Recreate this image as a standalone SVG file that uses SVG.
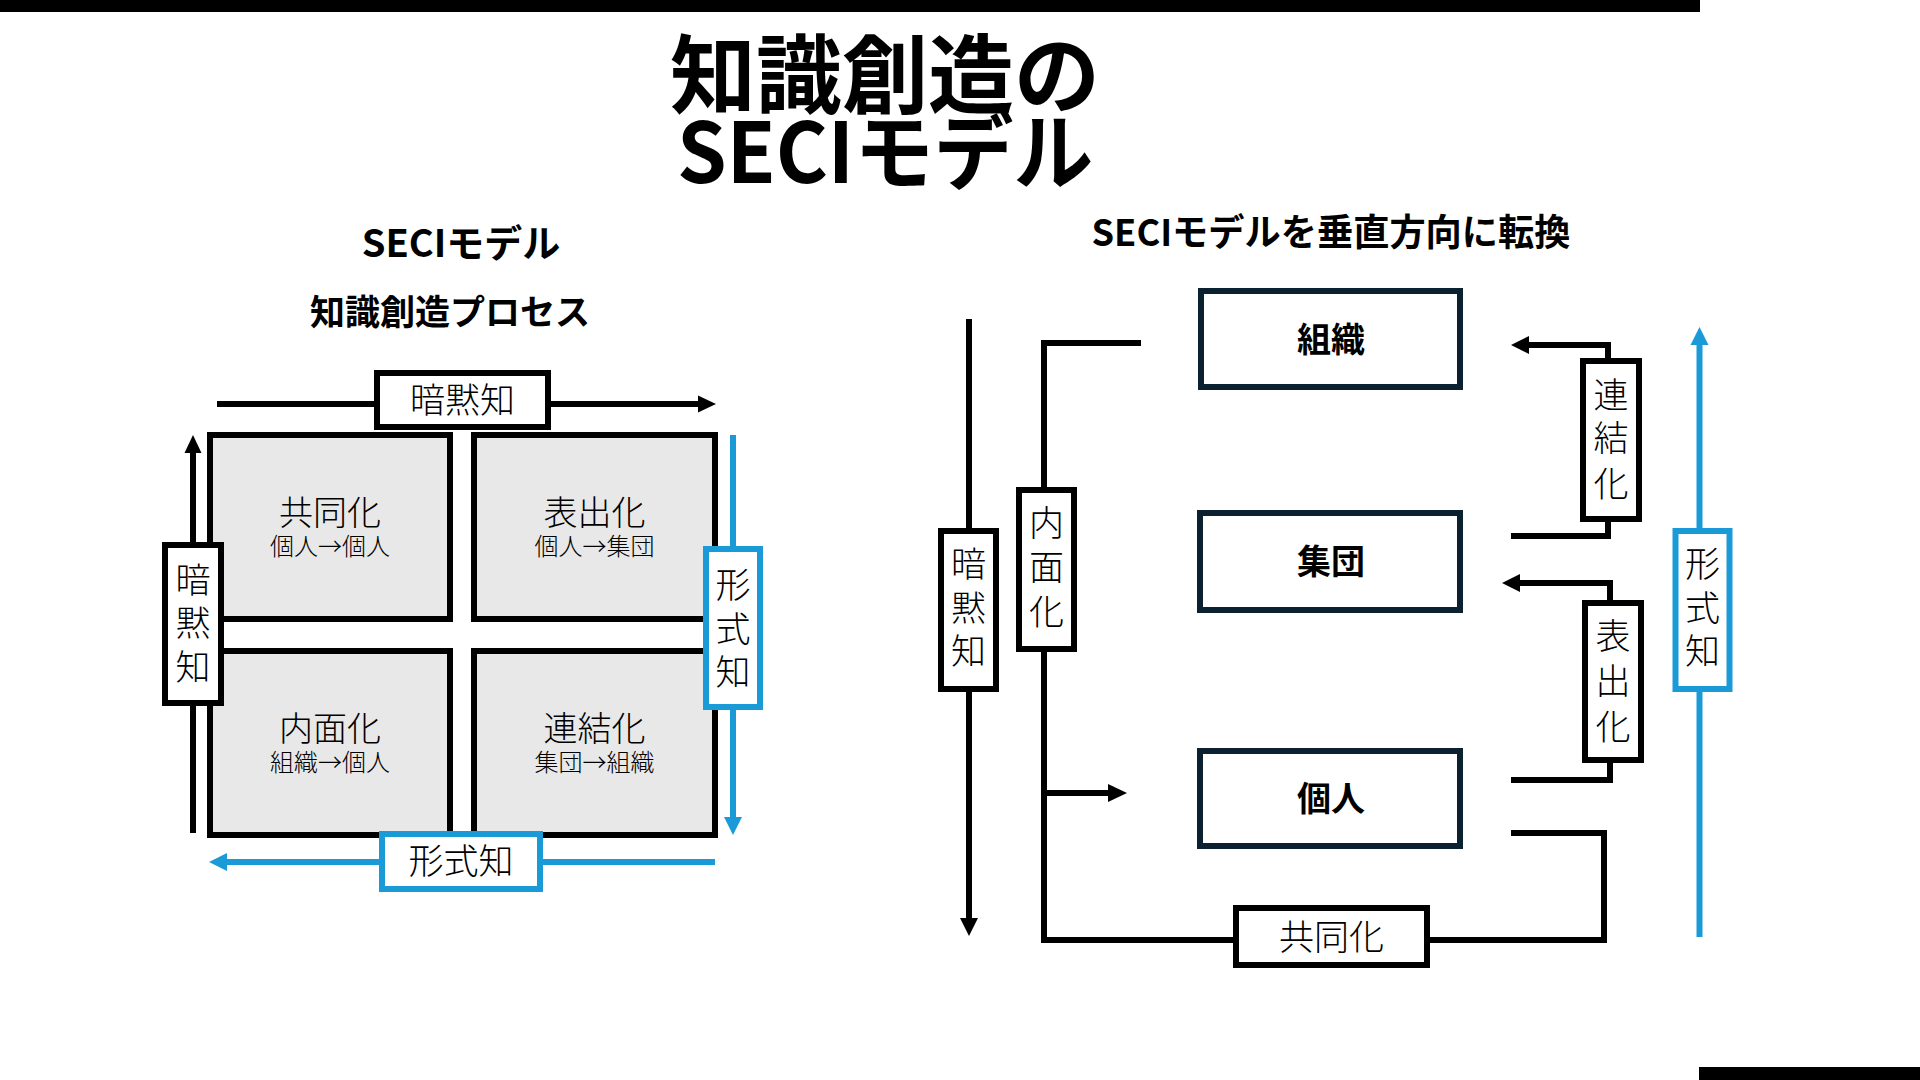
<svg xmlns="http://www.w3.org/2000/svg" width="1920" height="1080" viewBox="0 0 1920 1080">
  <style>
    .bold { font-family: "Noto Sans CJK JP", "Noto Sans", sans-serif; font-weight: 700; fill: #000; }
    .lt { font-family: "Noto Sans CJK JP", "Noto Sans", sans-serif; font-weight: 300; fill: #000; }
    .quad { fill: #e8e8e8; stroke: #000; stroke-width: 6; }
    .lbl { fill: #fff; stroke: #000; stroke-width: 6; }
    .lblb { fill: #fff; stroke: #1a9bd7; stroke-width: 6; }
    .node { fill: #fff; stroke: #0c2130; stroke-width: 6; }
    .ln { fill: none; stroke: #000; stroke-width: 6; stroke-linecap: butt; stroke-linejoin: miter; }
    .lnb { fill: none; stroke: #1a9bd7; stroke-width: 6; stroke-linecap: butt; }
    .ah { fill: #000; }
    .ahb { fill: #1a9bd7; }
  </style>

  <!-- decorative bars -->
  <rect x="0" y="0" width="1700" height="12" fill="#000"/>
  <rect x="1699" y="1067" width="221" height="13" fill="#000"/>

  <!-- title -->
  <g id="title">
    <text class="bold" x="885" y="107" font-size="86" text-anchor="middle">知識創造の</text>
    <text class="bold" x="885" y="183" font-size="84" text-anchor="middle" textLength="416" lengthAdjust="spacingAndGlyphs">SECIモデル</text>
  </g>

  <!-- left panel headings -->
  <text class="bold" x="461" y="257" font-size="38" text-anchor="middle">SECIモデル</text>
  <text class="bold" x="450" y="325" font-size="35" text-anchor="middle">知識創造プロセス</text>

  <!-- right panel heading -->
  <text class="bold" x="1331" y="246" font-size="37" text-anchor="middle" textLength="479" lengthAdjust="spacingAndGlyphs">SECIモデルを垂直方向に転換</text>

  <!-- connectors -->
  <g id="connectors">
    <!-- left panel -->
    <line class="ln" x1="217" y1="404" x2="699" y2="404" stroke-width="5"/>
    <polygon class="ah" points="716,404 698,395.5 698,412.5"/>
    <line class="ln" x1="193" y1="833" x2="193" y2="452" stroke-width="5"/>
    <polygon class="ah" points="193,435 184.5,453 201.5,453"/>
    <line class="lnb" x1="733" y1="435" x2="733" y2="818"/>
    <polygon class="ahb" points="733,835 724,817 742,817"/>
    <line class="lnb" x1="715" y1="862" x2="226" y2="862"/>
    <polygon class="ahb" points="209,862 227,853 227,871"/>

    <!-- right panel -->
    <line class="ln" x1="969" y1="319" x2="969" y2="919"/>
    <polygon class="ah" points="969,936 960,918 978,918"/>
    <path class="ln" d="M1044 487 V343 H1141"/>
    <path class="ln" d="M1044 652 V940 H1236"/>
    <path class="ln" d="M1427 940 H1604 V833 H1511"/>
    <line class="ln" x1="1044" y1="793" x2="1109" y2="793"/>
    <polygon class="ah" points="1127,793 1108,784 1108,802"/>
    <path class="ln" d="M1608 358 V345 H1527"/>
    <polygon class="ah" points="1511,345 1529,336 1529,354"/>
    <path class="ln" d="M1608 522 V536 H1511"/>
    <path class="ln" d="M1610 600 V583 H1519"/>
    <polygon class="ah" points="1502,583 1520,574 1520,592"/>
    <path class="ln" d="M1610 763 V780 H1511"/>
    <line class="lnb" x1="1699.5" y1="937" x2="1699.5" y2="344"/>
    <polygon class="ahb" points="1699.5,327 1690.5,345 1708.5,345"/>
  </g>

  <!-- left panel quadrants -->
  <g id="q-kyodoka">
    <rect class="quad" x="210" y="435" width="240" height="184"/>
    <text class="lt" x="330" y="525" font-size="34" text-anchor="middle">共同化</text>
    <text class="lt" x="330" y="555" font-size="24" text-anchor="middle">個人→個人</text>
  </g>
  <g id="q-hyoshutsuka">
    <rect class="quad" x="474" y="435" width="241" height="184"/>
    <text class="lt" x="594.5" y="525" font-size="34" text-anchor="middle">表出化</text>
    <text class="lt" x="594.5" y="555" font-size="24" text-anchor="middle">個人→集団</text>
  </g>
  <g id="q-naimenka">
    <rect class="quad" x="210" y="651" width="240" height="184"/>
    <text class="lt" x="330" y="741" font-size="34" text-anchor="middle">内面化</text>
    <text class="lt" x="330" y="771" font-size="24" text-anchor="middle">組織→個人</text>
  </g>
  <g id="q-renketsuka">
    <rect class="quad" x="474" y="651" width="241" height="184"/>
    <text class="lt" x="594.5" y="741" font-size="34" text-anchor="middle">連結化</text>
    <text class="lt" x="594.5" y="771" font-size="24" text-anchor="middle">集団→組織</text>
  </g>

  <!-- left panel labels -->
  <g id="l-anmokuchi-top">
    <rect class="lbl" x="377" y="373" width="171" height="54"/>
    <text class="lt" x="462.5" y="413" font-size="35" text-anchor="middle">暗黙知</text>
  </g>
  <g id="l-anmokuchi-left">
    <rect class="lbl" x="165" y="545" width="56" height="158"/>
    <text class="lt" x="193" y="593" font-size="35" text-anchor="middle">暗</text>
    <text class="lt" x="193" y="636" font-size="35" text-anchor="middle">黙</text>
    <text class="lt" x="193" y="680" font-size="35" text-anchor="middle">知</text>
  </g>
  <g id="l-keishikichi-right">
    <rect class="lblb" x="706" y="549" width="54" height="158"/>
    <text class="lt" x="733" y="598" font-size="35" text-anchor="middle">形</text>
    <text class="lt" x="733" y="642" font-size="35" text-anchor="middle">式</text>
    <text class="lt" x="733" y="685" font-size="35" text-anchor="middle">知</text>
  </g>
  <g id="l-keishikichi-bottom">
    <rect class="lblb" x="382" y="834" width="158" height="55"/>
    <text class="lt" x="461" y="874" font-size="35" text-anchor="middle">形式知</text>
  </g>

  <!-- right panel nodes -->
  <g id="n-soshiki">
    <rect class="node" x="1201" y="291" width="259" height="96"/>
    <text class="bold" x="1331" y="352" font-size="34" text-anchor="middle">組織</text>
  </g>
  <g id="n-shudan">
    <rect class="node" x="1200" y="513" width="260" height="97"/>
    <text class="bold" x="1331" y="574" font-size="34" text-anchor="middle">集団</text>
  </g>
  <g id="n-kojin">
    <rect class="node" x="1200" y="751" width="260" height="95"/>
    <text class="bold" x="1331" y="811" font-size="34" text-anchor="middle">個人</text>
  </g>

  <!-- right panel labels -->
  <g id="r-anmokuchi">
    <rect class="lbl" x="941" y="531" width="55" height="158"/>
    <text class="lt" x="968.5" y="577" font-size="35" text-anchor="middle">暗</text>
    <text class="lt" x="968.5" y="621" font-size="35" text-anchor="middle">黙</text>
    <text class="lt" x="968.5" y="664" font-size="35" text-anchor="middle">知</text>
  </g>
  <g id="r-naimenka">
    <rect class="lbl" x="1019" y="490" width="55" height="159"/>
    <text class="lt" x="1046.5" y="536" font-size="35" text-anchor="middle">内</text>
    <text class="lt" x="1046.5" y="580" font-size="35" text-anchor="middle">面</text>
    <text class="lt" x="1046.5" y="625" font-size="35" text-anchor="middle">化</text>
  </g>
  <g id="r-renketsuka">
    <rect class="lbl" x="1583" y="361" width="56" height="158"/>
    <text class="lt" x="1611" y="408" font-size="35" text-anchor="middle">連</text>
    <text class="lt" x="1611" y="451" font-size="35" text-anchor="middle">結</text>
    <text class="lt" x="1611" y="497" font-size="35" text-anchor="middle">化</text>
  </g>
  <g id="r-hyoshutsuka">
    <rect class="lbl" x="1585" y="603" width="56" height="157"/>
    <text class="lt" x="1613" y="649" font-size="35" text-anchor="middle">表</text>
    <text class="lt" x="1613" y="694" font-size="35" text-anchor="middle">出</text>
    <text class="lt" x="1613" y="740" font-size="35" text-anchor="middle">化</text>
  </g>
  <g id="r-keishikichi">
    <rect class="lblb" x="1675.5" y="531" width="54" height="158"/>
    <text class="lt" x="1702.5" y="577" font-size="35" text-anchor="middle">形</text>
    <text class="lt" x="1702.5" y="621" font-size="35" text-anchor="middle">式</text>
    <text class="lt" x="1702.5" y="664" font-size="35" text-anchor="middle">知</text>
  </g>
  <g id="r-kyodoka">
    <rect class="lbl" x="1236" y="908" width="191" height="57"/>
    <text class="lt" x="1331.5" y="950" font-size="35" text-anchor="middle">共同化</text>
  </g>
</svg>
